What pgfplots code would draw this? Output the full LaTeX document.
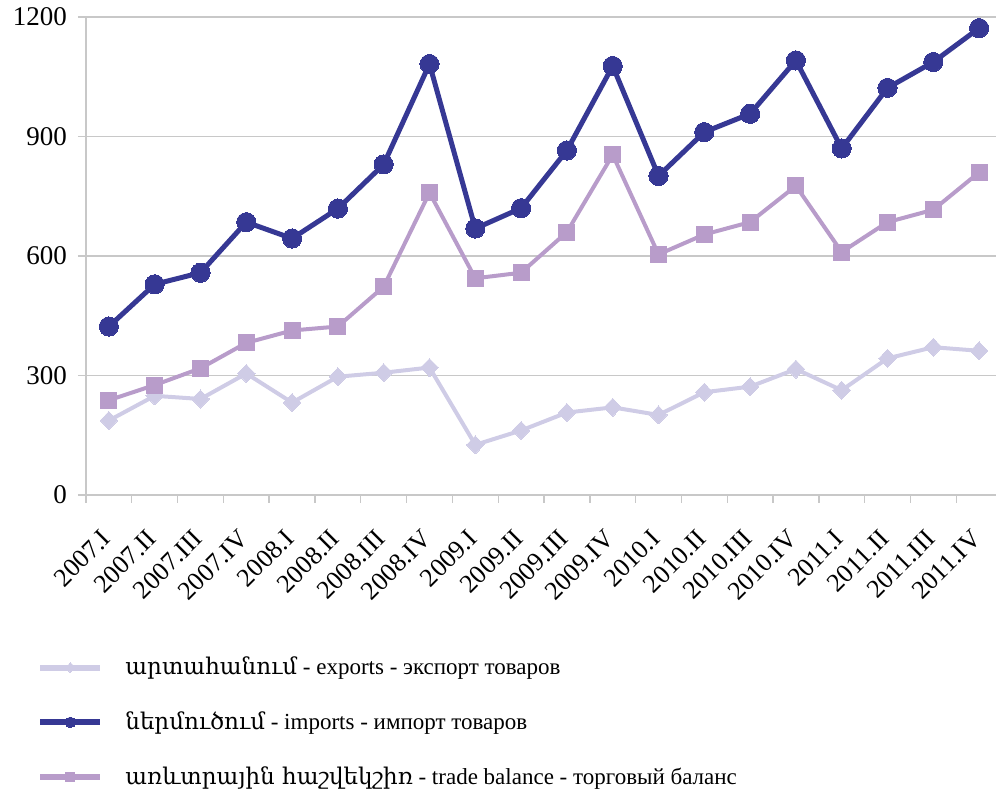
\documentclass[border=0pt]{standalone}
\usepackage{fontspec}
\setmainfont{Liberation Serif}
\newfontfamily\armfont{DejaVu Serif}
\usepackage{pgfplots}
\pgfplotsset{compat=1.18}
\definecolor{exportc}{HTML}{CFCCE6}
\definecolor{importc}{HTML}{363894}
\definecolor{balancec}{HTML}{B89CCA}
\definecolor{gridc}{HTML}{C8C8C8}
\begin{document}
\begin{tikzpicture}
\begin{axis}[
    name=ax,
    width=458pt, height=239pt, scale only axis,
    xmin=0, xmax=20, ymin=0, ymax=1200,
    ytick={0,300,600,900,1200},
    xtick={0,...,20},
    xticklabels={2007.I,2007.II,2007.III,2007.IV,2008.I,2008.II,2008.III,2008.IV,
                 2009.I,2009.II,2009.III,2009.IV,2010.I,2010.II,2010.III,2010.IV,
                 2011.I,2011.II,2011.III,2011.IV},
    x tick label as interval,
    axis lines*=left,
    axis line style={gridc, line width=0.7pt, -},
    tick style={gridc, line width=0.7pt},
    tick align=outside,
    major tick length=4pt,
    ymajorgrids=true,
    grid style={gridc, line width=0.8pt},
    /pgf/number format/assume math mode=true,
    /pgf/number format/1000 sep={},
    yticklabel style={font=\fontsize{13.5}{14}\selectfont, xshift=-2pt},
    % shifts act in the rotated frame: about 4.5pt left and 11pt down on the page
    xticklabel style={font=\fontsize{13}{14}\selectfont, rotate=45, anchor=north east,
        inner sep=1pt, xshift=-11pt, yshift=-4.6pt},
    legend style={at={(-0.0535,-0.33)}, anchor=north west, draw=none, fill=none,
        inner sep=0pt, font=\fontsize{11.5}{13}\selectfont, row sep=13pt,
        /tikz/every odd column/.append style={column sep=9pt}},
    legend cell align=left,
    legend image code/.code={\draw[mark repeat=2, mark phase=2, #1, line width=3pt,
        every mark/.append style={scale=0.55}]
        plot coordinates {(0pt,0pt)(15pt,0pt)(30pt,0pt)};},
]
\addplot[exportc, line width=2pt, mark=diamond*, mark size=4.5pt,
         mark options={fill=exportc, draw=exportc, line width=0pt, xscale=1.3}]
coordinates {
(0.5,187)(1.5,249)(2.5,241)(3.5,305)(4.5,232)(5.5,297)(6.5,307)(7.5,320)
(8.5,126)(9.5,162)(10.5,207)(11.5,220)(12.5,201)(13.5,258)(14.5,272)(15.5,316)
(16.5,263)(17.5,343)(18.5,371)(19.5,362)
};
\addlegendentry{{\armfont արտահանում} - exports - экспорт товаров}
\addplot[importc, line width=2.5pt, mark=*, mark size=4.8pt,
         mark options={fill=importc, draw=importc, line width=0pt}]
coordinates {
(0.5,423)(1.5,529)(2.5,558)(3.5,685)(4.5,644)(5.5,719)(6.5,830)(7.5,1082)
(8.5,669)(9.5,720)(10.5,865)(11.5,1077)(12.5,801)(13.5,911)(14.5,957)(15.5,1091)
(16.5,870)(17.5,1022)(18.5,1087)(19.5,1172)
};
\addlegendentry{{\armfont ներմուծում} - imports - импорт товаров}
\addplot[balancec, line width=2pt, mark=square*, mark size=4pt,
         mark options={fill=balancec, draw=balancec, line width=0pt}]
coordinates {
(0.5,238)(1.5,276)(2.5,318)(3.5,382)(4.5,413)(5.5,423)(6.5,523)(7.5,759)
(8.5,544)(9.5,558)(10.5,660)(11.5,854)(12.5,604)(13.5,654)(14.5,685)(15.5,776)
(16.5,610)(17.5,685)(18.5,716)(19.5,810)
};
\addlegendentry{{\armfont առևտրային հաշվեկշիռ} - trade balance - торговый баланс}
\end{axis}
\pgfresetboundingbox
\path[use as bounding box] ([shift={(-43pt,-148pt)}]ax.south west) rectangle ([shift={(-3pt,8.5pt)}]ax.north east);
\end{tikzpicture}
\end{document}
